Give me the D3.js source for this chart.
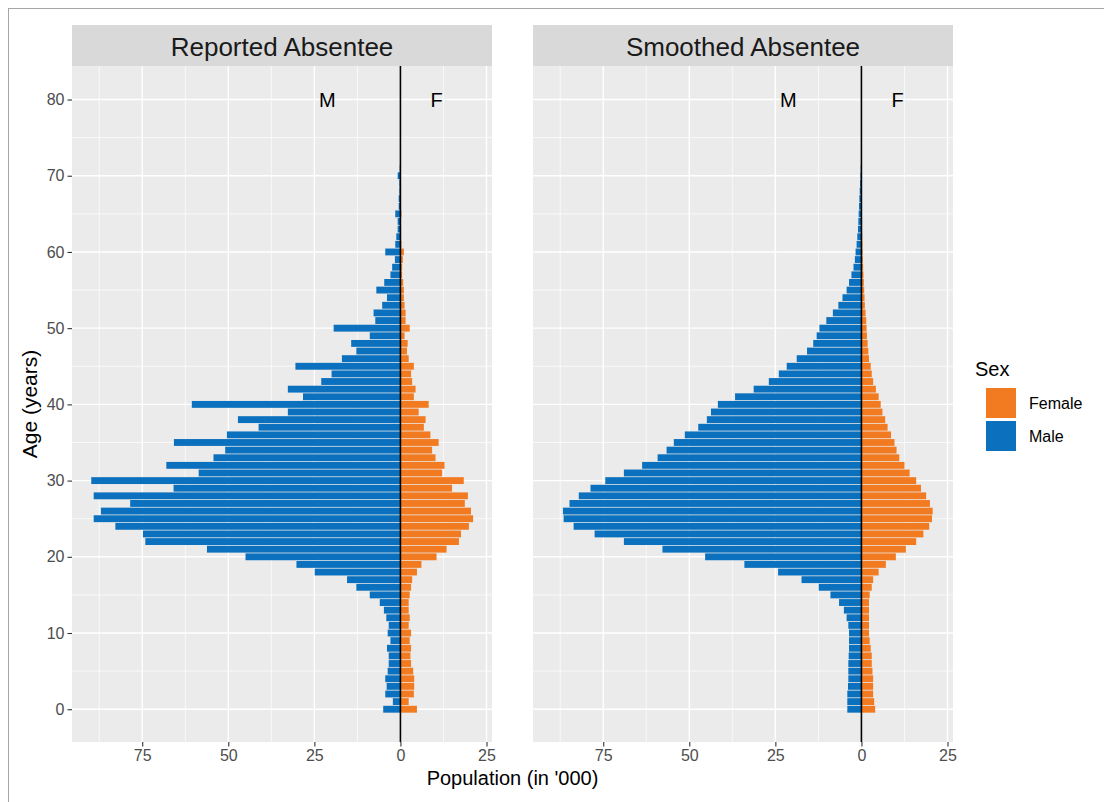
<!DOCTYPE html>
<html>
<head>
<meta charset="utf-8">
<script src="https://cdn.jsdelivr.net/npm/d3@7/dist/d3.min.js"></script>
<style>
  html, body { margin: 0; padding: 0; background: #fff; }
  svg { display: block; font-family: "Liberation Sans", Arial, Helvetica, sans-serif; }
</style>
</head>
<body>
<svg id="chart" width="1104" height="802"></svg>
<script>
// Single-year ages
const ages = d3.range(0, 73);

// Reported absentee population ('000)
const reportedMale = [
  5.0, 2.2, 4.4, 4.0, 4.4, 3.7, 3.4, 3.4, 3.9, 2.9,
  3.7, 3.4, 4.1, 4.8, 6.0, 8.9, 12.8, 15.5, 24.9, 30.2,
  45.0, 56.2, 74.1, 74.8, 82.8, 89.1, 87.0, 78.5, 89.1, 65.9,
  89.8, 58.6, 68.0, 54.3, 50.9, 65.8, 50.4, 41.2, 47.2, 32.7,
  60.6, 28.3, 32.7, 23.0, 20.0, 30.5, 17.0, 12.8, 14.3, 8.9,
  19.4, 7.3, 7.8, 5.3, 3.9, 7.0, 4.7, 2.9, 2.4, 1.6,
  4.4, 1.5, 1.2, 0.8, 0.8, 1.5, 0.5, 0.5, 0.3, 0.3,
  0.8, 0.2, 0.1
];
const reportedFemale = [
  4.8, 2.4, 3.9, 4.0, 4.0, 3.7, 3.1, 2.9, 3.1, 2.7,
  3.1, 2.4, 2.7, 2.4, 2.4, 2.7, 3.1, 3.4, 4.8, 6.1,
  10.5, 13.4, 17.0, 17.6, 19.9, 21.1, 20.5, 18.7, 19.6, 15.0,
  18.4, 12.1, 12.8, 10.2, 9.2, 11.1, 8.7, 6.8, 7.3, 5.3,
  8.2, 3.9, 4.4, 3.4, 3.1, 3.9, 2.4, 1.9, 2.1, 1.2,
  2.7, 1.5, 1.5, 1.2, 1.0, 1.0, 0.8, 0.5, 0.5, 0.7,
  1.0, 0.3, 0.2, 0.2, 0.1, 0.3, 0.1, 0.1, 0.0, 0.0,
  0.1, 0.0, 0.0
];

// Smoothed absentee population ('000)
const smoothedMale = [
  4.1, 4.1, 4.1, 3.9, 3.8, 3.8, 3.8, 3.7, 3.6, 3.6,
  3.6, 3.8, 4.3, 5.1, 6.5, 9.0, 12.4, 17.4, 24.2, 34.0,
  45.4, 57.8, 69.0, 77.5, 83.6, 86.5, 86.7, 84.8, 82.1, 78.7,
  74.4, 69.0, 63.7, 59.2, 56.6, 54.5, 51.3, 47.4, 44.9, 43.7,
  41.7, 36.7, 31.3, 26.9, 24.0, 21.7, 18.8, 15.8, 14.0, 13.0,
  12.2, 10.2, 8.3, 6.7, 5.5, 4.3, 3.6, 2.9, 2.3, 1.9,
  1.7, 1.4, 1.2, 1.0, 0.9, 0.8, 0.7, 0.6, 0.5, 0.4,
  0.3, 0.2, 0.1
];
const smoothedFemale = [
  4.0, 3.7, 3.4, 3.4, 3.4, 3.2, 3.0, 3.0, 2.7, 2.4,
  2.2, 2.2, 2.2, 2.2, 2.2, 2.4, 3.0, 3.4, 5.0, 7.1,
  10.0, 12.9, 15.9, 18.0, 19.7, 20.5, 20.7, 19.9, 18.8, 17.3,
  15.9, 14.0, 12.5, 11.0, 10.2, 9.6, 8.6, 7.6, 6.9, 6.1,
  5.6, 5.0, 4.2, 3.4, 3.0, 2.7, 2.2, 2.0, 1.8, 1.6,
  1.5, 1.4, 1.2, 1.0, 0.9, 0.8, 0.7, 0.6, 0.5, 0.4,
  0.35, 0.3, 0.25, 0.2, 0.2, 0.15, 0.1, 0.1, 0.1, 0.05,
  0.05, 0.0, 0.0
];

const panelTitles = ["Reported Absentee", "Smoothed Absentee"];
const xTicks = [-75, -50, -25, 0, 25];
const xMinor = [-87.5, -62.5, -37.5, -12.5, 12.5];
const yTicks = [0, 10, 20, 30, 40, 50, 60, 70, 80];
const yMinor = [5, 15, 25, 35, 45, 55, 65, 75];
const sexLabels = ["Female", "Male"];
const sexColors = { Female: "#F27B22", Male: "#0B70BD" };

const svg = d3.select("#chart");

// outer frame
svg.append("rect")
  .attr("x", 8.5).attr("y", 8.5)
  .attr("width", 1120).attr("height", 820)
  .attr("fill", "#fff").attr("stroke", "#a6a6a6").attr("stroke-width", 1);

const panelTop = 66, panelBottom = 742, stripTop = 25;
const panelLefts = [72, 533];
const panelWidth = 420;

const y = d3.scaleLinear().domain([-4.3, 84.4]).range([panelBottom, panelTop]);
const barH = (y(0) - y(1)) * 0.9;

const panelData = [
  { title: panelTitles[0], male: reportedMale, female: reportedFemale },
  { title: panelTitles[1], male: smoothedMale, female: smoothedFemale }
];

panelData.forEach((p, i) => {
  const x0 = panelLefts[i];
  const x = d3.scaleLinear().domain([-95.4, 26.6]).range([x0, x0 + panelWidth]);
  const g = svg.append("g");

  // strip
  g.append("rect").attr("x", x0).attr("y", stripTop)
    .attr("width", panelWidth).attr("height", panelTop - stripTop)
    .attr("fill", "#D9D9D9");
  g.append("text").attr("x", x0 + panelWidth / 2).attr("y", (stripTop + panelTop) / 2 + 1)
    .attr("text-anchor", "middle").attr("dominant-baseline", "central")
    .attr("font-size", 26).attr("fill", "#1A1A1A").text(p.title);

  // panel background
  g.append("rect").attr("x", x0).attr("y", panelTop)
    .attr("width", panelWidth).attr("height", panelBottom - panelTop)
    .attr("fill", "#EBEBEB");

  // grid
  const grid = g.append("g");
  grid.selectAll(".vmin").data(xMinor).join("line")
    .attr("x1", d => x(d)).attr("x2", d => x(d))
    .attr("y1", panelTop).attr("y2", panelBottom)
    .attr("stroke", "#fff").attr("stroke-width", 0.7);
  grid.selectAll(".hmin").data(yMinor).join("line")
    .attr("x1", x0).attr("x2", x0 + panelWidth)
    .attr("y1", d => y(d)).attr("y2", d => y(d))
    .attr("stroke", "#fff").attr("stroke-width", 0.7);
  grid.selectAll(".vmaj").data(xTicks).join("line")
    .attr("x1", d => x(d)).attr("x2", d => x(d))
    .attr("y1", panelTop).attr("y2", panelBottom)
    .attr("stroke", "#fff").attr("stroke-width", 1.4);
  grid.selectAll(".hmaj").data(yTicks).join("line")
    .attr("x1", x0).attr("x2", x0 + panelWidth)
    .attr("y1", d => y(d)).attr("y2", d => y(d))
    .attr("stroke", "#fff").attr("stroke-width", 1.4);

  // bars
  const rows = ages.map((a, k) => ({ age: a, male: p.male[k], female: p.female[k] }));
  g.append("g").selectAll("rect.m").data(rows.filter(d => d.male > 0)).join("rect")
    .attr("x", d => x(-d.male)).attr("width", d => x(0) - x(-d.male))
    .attr("y", d => y(d.age) - barH / 2).attr("height", barH)
    .attr("fill", sexColors.Male);
  g.append("g").selectAll("rect.f").data(rows.filter(d => d.female > 0)).join("rect")
    .attr("x", x(0)).attr("width", d => x(d.female) - x(0))
    .attr("y", d => y(d.age) - barH / 2).attr("height", barH)
    .attr("fill", sexColors.Female);

  // zero line
  g.append("line").attr("x1", x(0)).attr("x2", x(0))
    .attr("y1", panelTop).attr("y2", panelBottom)
    .attr("stroke", "#000").attr("stroke-width", 1.6);

  // M / F annotations
  g.append("text").attr("x", x(-21.2)).attr("y", y(80))
    .attr("text-anchor", "middle").attr("dominant-baseline", "central")
    .attr("font-size", 20).attr("fill", "#000").text("M");
  g.append("text").attr("x", x(10.5)).attr("y", y(80))
    .attr("text-anchor", "middle").attr("dominant-baseline", "central")
    .attr("font-size", 20).attr("fill", "#000").text("F");

  // x axis
  const xAxis = g.append("g").attr("transform", `translate(0,${panelBottom})`)
    .call(d3.axisBottom(x).tickValues(xTicks).tickFormat(d => Math.abs(d)).tickSize(4.5).tickPadding(3));
  xAxis.select(".domain").remove();
  xAxis.selectAll(".tick line").attr("stroke", "#333").attr("stroke-width", 1.1);
  xAxis.selectAll(".tick text").attr("font-size", 16).attr("fill", "#4D4D4D")
    .attr("font-family", "Liberation Sans, Arial, sans-serif");

  // y axis only on the first panel
  if (i === 0) {
    const yAxis = g.append("g").attr("transform", `translate(${x0},0)`)
      .call(d3.axisLeft(y).tickValues(yTicks).tickSize(4.5).tickPadding(3));
    yAxis.select(".domain").remove();
    yAxis.selectAll(".tick line").attr("stroke", "#333").attr("stroke-width", 1.1);
    yAxis.selectAll(".tick text").attr("font-size", 16).attr("fill", "#4D4D4D")
      .attr("font-family", "Liberation Sans, Arial, sans-serif");
  }
});

// axis titles
svg.append("text").attr("x", (panelLefts[0] + panelLefts[1] + panelWidth) / 2).attr("y", 778)
  .attr("text-anchor", "middle").attr("dominant-baseline", "central")
  .attr("font-size", 20).attr("fill", "#000").text("Population (in '000)");
svg.append("text")
  .attr("transform", `translate(29,${(panelTop + panelBottom) / 2}) rotate(-90)`)
  .attr("text-anchor", "middle").attr("dominant-baseline", "central")
  .attr("font-size", 21).attr("fill", "#000").text("Age (years)");

// legend
const legend = svg.append("g").attr("transform", "translate(975,0)");
legend.append("text").attr("x", 0).attr("y", 369)
  .attr("dominant-baseline", "central")
  .attr("font-size", 20).attr("fill", "#000").text("Sex");
sexLabels.forEach((s, k) => {
  const ky = 388 + k * 33;
  legend.append("rect").attr("x", 11).attr("y", ky).attr("width", 30).attr("height", 30)
    .attr("fill", sexColors[s]);
  legend.append("text").attr("x", 54).attr("y", ky + 15)
    .attr("dominant-baseline", "central")
    .attr("font-size", 16).attr("fill", "#000").text(s);
});
</script>
</body>
</html>
